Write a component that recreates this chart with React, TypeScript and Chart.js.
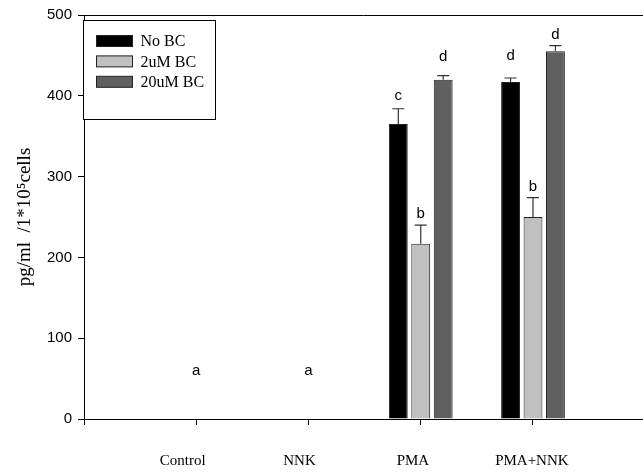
import React, { useEffect, useRef } from 'react';
import { Chart, registerables } from 'chart.js';

Chart.register(...registerables);

const categories = ['Control', 'NNK', 'PMA', 'PMA+NNK'];
const categoryX = [1, 2, 3, 4];
const labelX = [0.88, 1.92, 2.93, 3.99];
const xTicks = [0, 1, 2, 3, 4];
const yTicks = [0, 100, 200, 300, 400, 500];

const seriesNames = ['No BC', '2uM BC', '20uM BC'];
const seriesColors = ['#000000', '#c0c0c0', '#606060'];

const noBC = [0, 0, 365, 417];
const noBCErr = [0, 0, 19, 5];
const noBCLetters = ['', '', 'c', 'd'];
const noBCLetterY = [0, 0, 400, 449];

const uM2 = [0, 0, 217, 250];
const uM2Err = [0, 0, 23, 24];
const uM2Letters = ['a', 'a', 'b', 'b'];
const uM2LetterY = [60, 60, 254, 287];

const uM20 = [0, 0, 420, 455];
const uM20Err = [0, 0, 5, 7];
const uM20Letters = ['', '', 'd', 'd'];
const uM20LetterY = [0, 0, 448, 476];

const X_MAX = 4.98;

function makeDataset(i: number, values: number[], errs: number[], letters: string[], letterY: number[]) {
  return {
    label: seriesNames[i],
    data: values.map((v, j) => ({ x: categoryX[j], y: v })),
    backgroundColor: seriesColors[i],
    borderColor: '#222222',
    borderWidth: 1,
    categoryPercentage: 0.6,
    barPercentage: 0.84,
    errors: errs,
    letters: letters,
    letterY: letterY,
  } as any;
}

const annotatePlugin = {
  id: 'annotate',
  afterDatasetsDraw(chart: any) {
    const ctx = chart.ctx;
    const yScale = chart.scales.y;
    chart.data.datasets.forEach((ds: any, i: number) => {
      const meta = chart.getDatasetMeta(i);
      meta.data.forEach((bar: any, j: number) => {
        const err = ds.errors[j];
        const val = ds.data[j].y;
        if (err > 0) {
          const top = yScale.getPixelForValue(val + err);
          ctx.save();
          ctx.strokeStyle = '#333333';
          ctx.lineWidth = 1.2;
          ctx.beginPath();
          ctx.moveTo(bar.x, bar.y);
          ctx.lineTo(bar.x, top);
          ctx.moveTo(bar.x - 6, top);
          ctx.lineTo(bar.x + 6, top);
          ctx.stroke();
          ctx.restore();
        }
        const letter = ds.letters[j];
        if (letter) {
          ctx.save();
          ctx.fillStyle = '#000';
          ctx.font = '15px "Liberation Sans", Arial, sans-serif';
          ctx.textAlign = 'center';
          ctx.textBaseline = 'middle';
          ctx.fillText(letter, bar.x, yScale.getPixelForValue(ds.letterY[j]));
          ctx.restore();
        }
      });
    });
  },
  afterDraw(chart: any) {
    const ctx = chart.ctx;
    const area = chart.chartArea;
    ctx.save();
    ctx.strokeStyle = '#000';
    ctx.lineWidth = 1;
    ctx.beginPath();
    ctx.moveTo(area.left, area.top + 0.5);
    ctx.lineTo(area.right, area.top + 0.5);
    ctx.stroke();

    const lx = area.left - 0.5;
    const ly = area.top + 5.5;
    const lw = 132;
    const lh = 99;
    ctx.fillStyle = '#fff';
    ctx.fillRect(lx, ly, lw, lh);
    ctx.strokeRect(lx, ly, lw, lh);
    chart.data.datasets.forEach((ds: any, i: number) => {
      const cy = ly + 20.5 + i * 20.4;
      ctx.fillStyle = ds.backgroundColor;
      ctx.fillRect(lx + 13, cy - 5.5, 36, 11);
      ctx.strokeStyle = '#222';
      ctx.strokeRect(lx + 13, cy - 5.5, 36, 11);
      ctx.fillStyle = '#000';
      ctx.font = '16px "Liberation Serif", "Times New Roman", serif';
      ctx.textAlign = 'left';
      ctx.textBaseline = 'middle';
      ctx.fillText(ds.label, lx + 57, cy + 1);
    });
    ctx.restore();
  },
};

export default function App() {
  const canvasRef = useRef<HTMLCanvasElement | null>(null);

  useEffect(() => {
    const canvas = canvasRef.current;
    if (!canvas) return;
    const chart = new Chart(canvas, {
      type: 'bar',
      data: {
        datasets: [
          makeDataset(0, noBC, noBCErr, noBCLetters, noBCLetterY),
          makeDataset(1, uM2, uM2Err, uM2Letters, uM2LetterY),
          makeDataset(2, uM20, uM20Err, uM20Letters, uM20LetterY),
        ],
      },
      options: {
        animation: false,
        responsive: false,
        maintainAspectRatio: false,
        layout: { padding: { top: 14, right: 0, bottom: 0, left: 0 } },
        plugins: {
          legend: { display: false },
          tooltip: { enabled: false },
        },
        scales: {
          x: {
            type: 'linear',
            position: 'bottom',
            min: 0,
            max: X_MAX,
            offset: false,
            afterBuildTicks: (s: any) => {
              s.ticks = xTicks.map((v) => ({ value: v }));
            },
            ticks: { display: false },
            grid: { offset: false, drawOnChartArea: false, drawTicks: true, tickLength: 6, color: '#000' },
            border: { color: '#000', width: 1 },
            afterFit: (s: any) => {
              s.height = 6;
            },
          },
          xl: {
            type: 'linear',
            position: 'bottom',
            min: 0,
            max: X_MAX,
            offset: false,
            afterBuildTicks: (s: any) => {
              s.ticks = labelX.map((v) => ({ value: v }));
            },
            ticks: {
              autoSkip: false,
              maxRotation: 0,
              padding: 27,
              color: '#000',
              font: { family: '"Liberation Serif", "Times New Roman", serif', size: 15 },
              callback: (_v: any, i: number) => categories[i],
            },
            grid: { display: false, drawTicks: false },
            border: { display: false },
            afterFit: (s: any) => {
              s.height = 48;
            },
          },
          y: {
            type: 'linear',
            min: 0,
            max: 500,
            afterBuildTicks: (s: any) => {
              s.ticks = yTicks.map((v) => ({ value: v }));
            },
            ticks: {
              padding: 6,
              color: '#000',
              font: { family: '"Liberation Sans", Arial, sans-serif', size: 15 },
            },
            grid: { drawOnChartArea: false, drawTicks: true, tickLength: 6, color: '#000' },
            border: { color: '#000', width: 1 },
            title: {
              display: true,
              text: 'pg/ml  /1*10\u2075cells',
              color: '#000',
              font: { family: '"Liberation Serif", "Times New Roman", serif', size: 19 },
              padding: { top: 14, bottom: 0 },
            },
            afterFit: (s: any) => {
              s.width = 84;
            },
          },
        },
      } as any,
      plugins: [annotatePlugin],
    });
    return () => chart.destroy();
  }, []);

  return (
    <div style={{ position: 'fixed', left: 0, top: 0, width: 643, height: 473, background: '#fff' }}>
      <canvas ref={canvasRef} width={643} height={473} style={{ display: 'block' }} />
    </div>
  );
}
